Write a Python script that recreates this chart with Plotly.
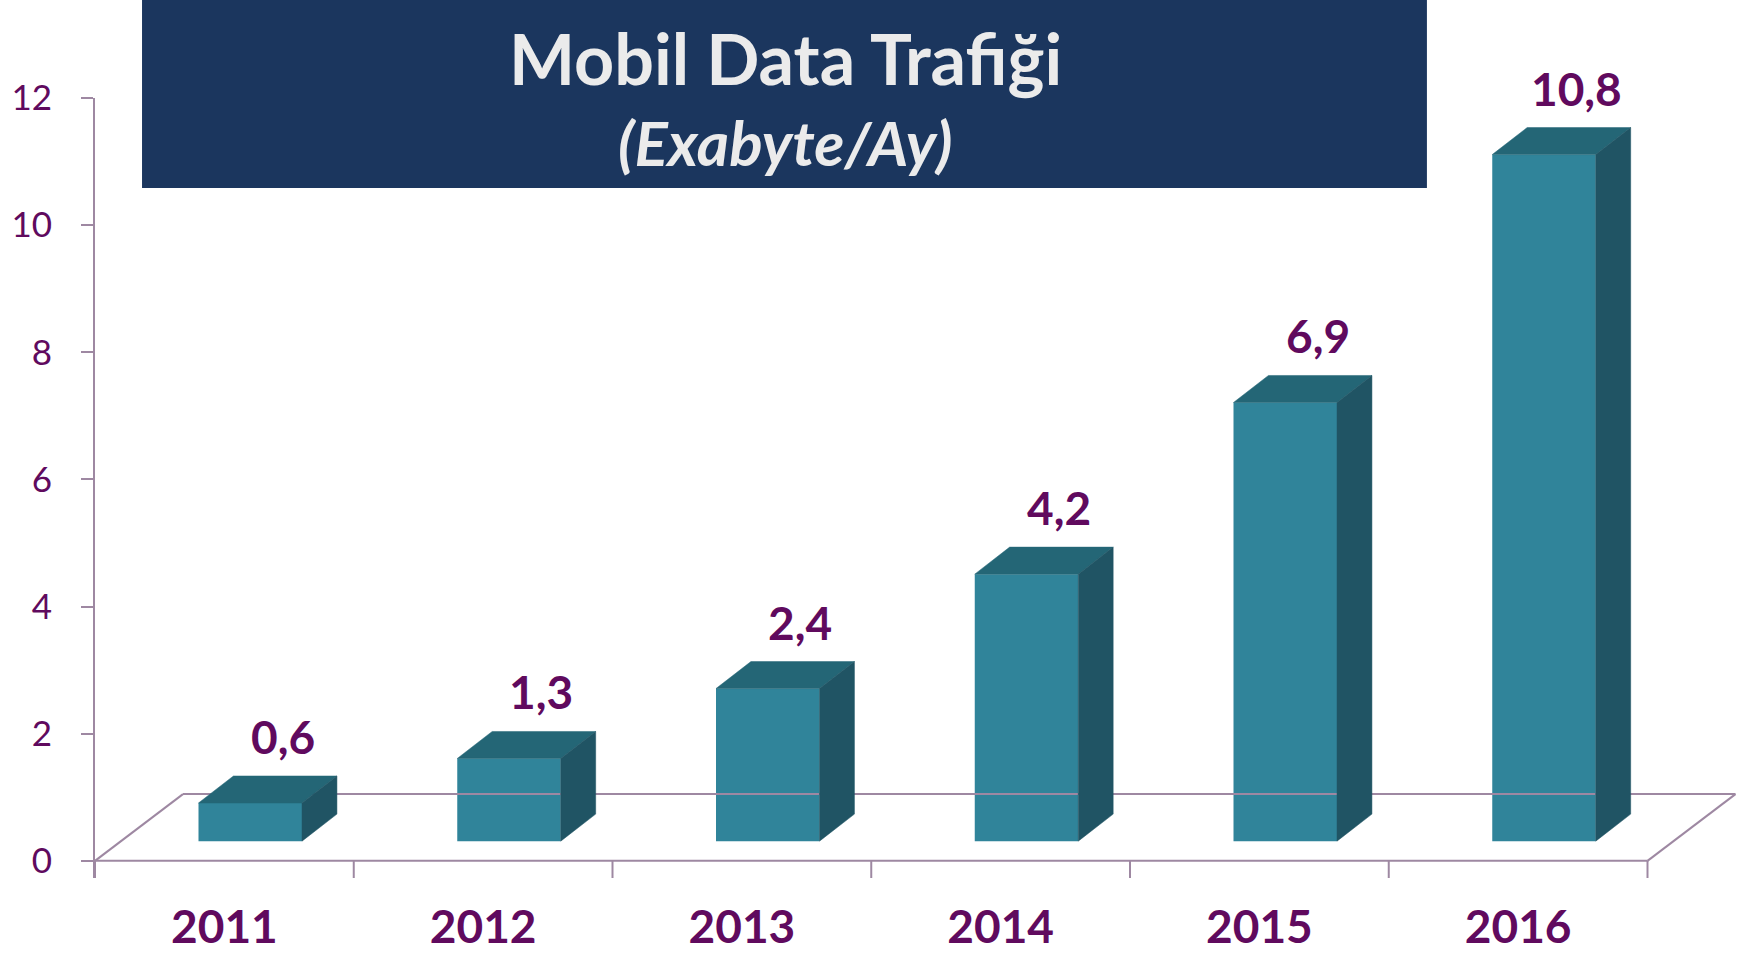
import plotly.graph_objects as go

years = ["2011", "2012", "2013", "2014", "2015", "2016"]
traffic = [0.6, 1.3, 2.4, 4.2, 6.9, 10.8]
y_ticks = [0, 2, 4, 6, 8, 10, 12]

# fake 3D geometry, in axis units (x: one category, y: exabyte)
BAR_W = 0.40
BAR_SHIFT = 0.10
BAR_BASE = 0.31
DEPTH_X = 0.135
DEPTH_Y = 0.425
FLOOR_X = 0.34
FLOOR_Y = 1.05

FRONT = "#30849A"
TOP = "#246676"
SIDE = "#205464"
AXIS = "#9E88A2"
PURPLE = "#600A5E"
FONT = "Lato"

xs = list(range(len(years)))
labels = [f"{v:.1f}".replace(".", ",") for v in traffic]

fig = go.Figure()

# floor of the 3D box
left, right = -0.5, len(years) - 0.5
floor_x = [left, right, None,
           left + FLOOR_X, right + FLOOR_X, None,
           left, left + FLOOR_X, None,
           right, right + FLOOR_X]
floor_y = [0, 0, None, FLOOR_Y, FLOOR_Y, None, 0, FLOOR_Y, None, 0, FLOOR_Y]
fig.add_trace(go.Scatter(x=floor_x, y=floor_y, mode="lines",
                         line=dict(color=AXIS, width=2), hoverinfo="skip"))

# category boundary ticks under the front edge
tick_x, tick_y = [], []
for i in range(len(years) + 1):
    tick_x += [left + i, left + i, None]
    tick_y += [0, -0.27, None]
fig.add_trace(go.Scatter(x=tick_x, y=tick_y, mode="lines",
                         line=dict(color=AXIS, width=2), hoverinfo="skip"))

# front faces
fig.add_trace(go.Bar(
    x=[x + BAR_SHIFT for x in xs],
    y=traffic,
    base=BAR_BASE,
    width=BAR_W,
    marker=dict(color=FRONT, line=dict(width=0)),
    hoverinfo="skip",
))

# top and side faces
for x, v in zip(xs, traffic):
    xl = x + BAR_SHIFT - BAR_W / 2
    xr = x + BAR_SHIFT + BAR_W / 2
    t = BAR_BASE + v
    fig.add_trace(go.Scatter(
        x=[xl, xr, xr + DEPTH_X, xl + DEPTH_X, xl],
        y=[t, t, t + DEPTH_Y, t + DEPTH_Y, t],
        fill="toself", fillcolor=TOP, mode="lines",
        line=dict(color=TOP, width=0.5), hoverinfo="skip",
    ))
    fig.add_trace(go.Scatter(
        x=[xr, xr, xr + DEPTH_X, xr + DEPTH_X, xr],
        y=[BAR_BASE, t, t + DEPTH_Y, BAR_BASE + DEPTH_Y, BAR_BASE],
        fill="toself", fillcolor=SIDE, mode="lines",
        line=dict(color=SIDE, width=0.5), hoverinfo="skip",
    ))

fig.update_layout(
    width=1754,
    height=954,
    margin=dict(l=95, r=3, t=98, b=76),
    paper_bgcolor="white",
    plot_bgcolor="white",
    showlegend=False,
    xaxis=dict(
        range=[-0.5, 5.9],
        tickvals=xs,
        ticktext=years,
        tickfont=dict(family=FONT, size=46, color=PURPLE, weight="bold"),
        ticks="",
        ticklabelstandoff=18,
        showgrid=False,
        zeroline=False,
        showline=False,
        automargin=False,
    ),
    yaxis=dict(
        range=[-0.27, 12],
        tickvals=y_ticks,
        tickfont=dict(family=FONT, size=35, color=PURPLE),
        ticks="outside",
        ticklen=12,
        tickwidth=2,
        tickcolor=AXIS,
        ticklabelstandoff=22,
        showline=True,
        linecolor=AXIS,
        linewidth=2,
        showgrid=False,
        zeroline=False,
        automargin=False,
    ),
)

# value labels, anchored on the back edge of each bar top
for x, v, lab in zip(xs, traffic, labels):
    fig.add_annotation(
        x=x + 0.225, y=BAR_BASE + v + DEPTH_Y,
        xref="x", yref="y", text=lab, showarrow=False,
        xanchor="center", yanchor="bottom", yshift=10,
        font=dict(family=FONT, size=46, color=PURPLE, weight="bold"),
    )

# title banner
fig.add_shape(type="rect", xref="paper", yref="paper",
              x0=0.0284, x1=0.8043, y0=0.8846, y1=1.13,
              fillcolor="#1B365E", line=dict(width=0), layer="above")
fig.add_annotation(text="Mobil Data Trafiği", xref="paper", yref="paper",
                   x=0.4167, y=1.0513, xanchor="center", yanchor="middle",
                   showarrow=False,
                   font=dict(family=FONT, size=70, color="#EBEBEB", weight="bold"))
fig.add_annotation(text="<i>(Exabyte/Ay)</i>", xref="paper", yref="paper",
                   x=0.4167, y=0.9436, xanchor="center", yanchor="middle",
                   showarrow=False,
                   font=dict(family=FONT, size=62, color="#EBEBEB", weight="bold"))

fig.write_html("out.html", config={"displayModeBar": False},
               post_script="document.body.style.margin = '0';")
